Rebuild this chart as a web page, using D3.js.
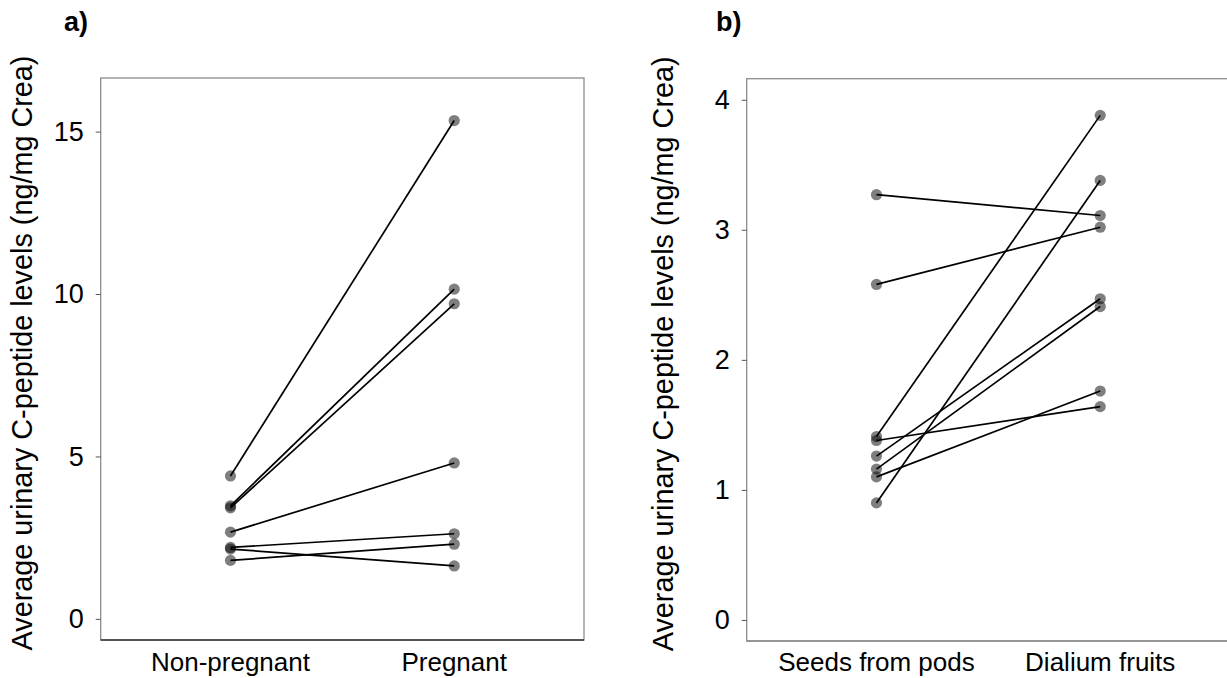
<!DOCTYPE html>
<html>
<head>
<meta charset="utf-8">
<script src="https://cdn.jsdelivr.net/npm/d3@7"></script>
<style>
  body { margin: 0; background: #fff; }
  text { font-family: "Liberation Sans", Arial, sans-serif; fill: #000; }
</style>
</head>
<body>
<div id="chart"></div>
<script>
// ---- DATA ----
var groupsA = ["Non-pregnant", "Pregnant"];
var nonPregnant = [4.40, 3.48, 3.42, 2.67, 2.20, 2.15, 1.80];
var pregnant    = [15.34, 10.15, 9.70, 4.80, 2.62, 1.63, 2.30];
var ticksA = [0, 5, 10, 15];

var groupsB = ["Seeds from pods", "Dialium fruits"];
var seedsPods     = [3.27, 2.58, 1.41, 1.38, 1.26, 1.16, 1.10, 0.90];
var dialiumFruits = [3.11, 3.02, 3.88, 1.64, 2.47, 2.41, 1.76, 3.38];
var ticksB = [0, 1, 2, 3, 4];

var yTitle = "Average urinary C-peptide levels (ng/mg Crea)";

var svg = d3.select("#chart")
    .append("svg")
    .attr("width", 1227)
    .attr("height", 678);

// one panel of paired values
function panel(opt) {
  var x = d3.scaleLinear()
      .domain([0.42, 2.58])
      .range([opt.left, opt.right]);

  var y = d3.scaleLinear()
      .domain(opt.yDomain)
      .range([opt.bottom, opt.top]);

  var g = svg.append("g");

  // box
  g.append("rect")
      .attr("x", opt.left)
      .attr("y", opt.top)
      .attr("width", opt.right - opt.left)
      .attr("height", opt.bottom - opt.top)
      .attr("fill", "none")
      .attr("stroke", "#8c8c8c")
      .attr("stroke-width", 1.3);

  g.append("line")
      .attr("x1", opt.left).attr("x2", opt.right)
      .attr("y1", opt.bottom).attr("y2", opt.bottom)
      .attr("stroke", opt.bottomColor)
      .attr("stroke-width", 1.3);

  // y axis
  var yAxis = d3.axisLeft(y)
      .tickValues(opt.ticks)
      .tickSize(5)
      .tickPadding(12)
      .tickFormat(d3.format("d"));

  var ag = g.append("g")
      .attr("transform", "translate(" + opt.left + ",0)")
      .call(yAxis);
  ag.select(".domain").remove();
  ag.selectAll(".tick line").attr("stroke", "#555");
  ag.selectAll(".tick text")
      .attr("font-size", 27)
      .attr("font-family", "Liberation Sans, Arial, sans-serif")
      .attr("fill", "#000");

  // x labels
  g.selectAll(".xlab")
      .data(opt.groups)
      .enter().append("text")
      .attr("class", "xlab")
      .attr("x", function(d, i) { return x(i + 1); })
      .attr("y", 671)
      .attr("text-anchor", "middle")
      .attr("font-size", 26)
      .text(function(d) { return d; });

  // y title
  g.append("text")
      .attr("transform", "translate(" + opt.titleX + "," + ((opt.top + opt.bottom) / 2 - 6) + ") rotate(-90)")
      .attr("text-anchor", "middle")
      .attr("font-size", 28.8)
      .text(yTitle);

  // panel letter
  g.append("text")
      .attr("x", opt.letterX)
      .attr("y", 31)
      .attr("font-size", 27)
      .attr("font-weight", "bold")
      .text(opt.letter);

  var pairs = opt.before.map(function(v, i) { return [v, opt.after[i]]; });

  // points
  pairs.forEach(function(p) {
    p.forEach(function(v, j) {
      g.append("circle")
          .attr("cx", x(j + 1))
          .attr("cy", y(v))
          .attr("r", 5.6)
          .attr("fill", "rgba(0,0,0,0.5)");
    });
  });

  // connecting lines
  g.selectAll(".pair")
      .data(pairs)
      .enter().append("line")
      .attr("class", "pair")
      .attr("x1", x(1))
      .attr("x2", x(2))
      .attr("y1", function(d) { return y(d[0]); })
      .attr("y2", function(d) { return y(d[1]); })
      .attr("stroke", "#000")
      .attr("stroke-width", 1.7);
}

panel({
  left: 100.7, right: 584, top: 78, bottom: 640,
  yDomain: [-0.65, 16.65],
  ticks: ticksA,
  groups: groupsA,
  before: nonPregnant,
  after: pregnant,
  titleX: 32,
  letter: "a)",
  letterX: 64,
  bottomColor: "#333"
});

panel({
  left: 746.7, right: 1230, top: 78.7, bottom: 641,
  yDomain: [-0.162, 4.162],
  ticks: ticksB,
  groups: groupsB,
  before: seedsPods,
  after: dialiumFruits,
  titleX: 673,
  letter: "b)",
  letterX: 716,
  bottomColor: "#8c8c8c"
});
</script>
</body>
</html>
